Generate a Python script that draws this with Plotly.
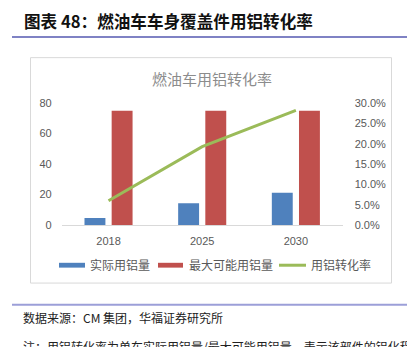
import plotly.graph_objects as go

# ---- data ----
years = ["2018", "2025", "2030"]
actual_al = [4.6, 14.4, 21.3]          # 实际用铝量
max_al = [75, 75, 75]                  # 最大可能用铝量
conv_rate = [0.060, 0.193, 0.282]      # 用铝转化率
left_ticks = [0, 20, 40, 60, 80]
right_ticks = [0, 0.05, 0.10, 0.15, 0.20, 0.25, 0.30]

series_names = ["实际用铝量", "最大可能用铝量", "用铝转化率"]
header_text = "图表 48：燃油车车身覆盖件用铝转化率"
chart_title = "燃油车用铝转化率"
source_text = "数据来源：CM 集团，华福证券研究所"
note_text = "注：用铝转化率为单车实际用铝量/最大可能用铝量，表示该部件的铝化程度"

BLUE = "#4f81bd"
RED = "#c0504d"
GREEN = "#9bbb59"
GREY = "#595959"

W, H = 407, 347
def px(x):
    return x / W
def py(y):
    return 1 - y / H

CJK = "Noto Sans CJK SC"
LAT = "Liberation Sans, Noto Sans CJK SC"

fig = go.Figure()
fig.add_trace(go.Bar(x=years, y=actual_al, name=series_names[0], marker_color=BLUE,
                     marker_line_width=0, yaxis="y", showlegend=False))
fig.add_trace(go.Bar(x=years, y=max_al, name=series_names[1], marker_color=RED,
                     marker_line_width=0, yaxis="y", showlegend=False))
fig.add_trace(go.Scatter(x=years, y=conv_rate, name=series_names[2], mode="lines",
                         line=dict(color=GREEN, width=3), yaxis="y2", showlegend=False))

shapes = [
    # header rule
    dict(type="line", xref="paper", yref="paper", x0=px(12), x1=px(407), y0=py(32), y1=py(32),
         line=dict(color="#5458b0", width=1.5)),
    # chart frame
    dict(type="rect", xref="paper", yref="paper", x0=px(30.5), x1=px(391.5), y0=py(53.5), y1=py(287),
         line=dict(color="#d9d9d9", width=1), fillcolor="rgba(0,0,0,0)", layer="below"),
    # bottom rule
    dict(type="line", xref="paper", yref="paper", x0=px(12), x1=px(407), y0=py(309.5), y1=py(309.5),
         line=dict(color="#9c9fd8", width=2)),
    # legend swatches
    dict(type="rect", xref="paper", yref="paper", x0=px(59), x1=px(85), y0=py(266), y1=py(271),
         fillcolor=BLUE, line=dict(width=0)),
    dict(type="rect", xref="paper", yref="paper", x0=px(158), x1=px(183), y0=py(266), y1=py(271),
         fillcolor=RED, line=dict(width=0)),
    dict(type="line", xref="paper", yref="paper", x0=px(279), x1=px(306), y0=py(268.5), y1=py(268.5),
         line=dict(color=GREEN, width=3)),
]

annotations = [
    dict(text="<b>" + header_text + "</b>", x=px(22), y=py(16), xref="paper", yref="paper",
         xanchor="left", yanchor="middle", showarrow=False,
         font=dict(family=CJK, size=16.6, color="#111111")),
    dict(text=chart_title, x=px(212), y=py(75), xref="paper", yref="paper",
         xanchor="center", yanchor="middle", showarrow=False,
         font=dict(family=CJK, size=15, color="#8c8c8c")),
    dict(text=series_names[0], x=px(88), y=py(268), xref="paper", yref="paper",
         xanchor="left", yanchor="middle", showarrow=False,
         font=dict(family=CJK, size=12, color=GREY)),
    dict(text=series_names[1], x=px(187), y=py(268), xref="paper", yref="paper",
         xanchor="left", yanchor="middle", showarrow=False,
         font=dict(family=CJK, size=12, color=GREY)),
    dict(text=series_names[2], x=px(309), y=py(268), xref="paper", yref="paper",
         xanchor="left", yanchor="middle", showarrow=False,
         font=dict(family=CJK, size=12, color=GREY)),
    dict(text=source_text, x=px(21), y=py(323), xref="paper", yref="paper",
         xanchor="left", yanchor="middle", showarrow=False,
         font=dict(family=CJK, size=12, color="#222222")),
    dict(text=note_text, x=px(21), y=py(353), xref="paper", yref="paper",
         xanchor="left", yanchor="middle", showarrow=False,
         font=dict(family=CJK, size=12, color="#222222")),
]

fig.update_layout(
    width=W, height=H,
    margin=dict(l=0, r=0, t=0, b=0),
    paper_bgcolor="white", plot_bgcolor="white",
    barmode="group", bargap=0.42, bargroupgap=0.23,
    showlegend=False,
    xaxis=dict(domain=[px(61.7), px(342.7)], showgrid=False, showline=True,
               linecolor="#d9d9d9", linewidth=1, ticks="", zeroline=False,
               tickfont=dict(family=LAT, size=11, color=GREY), ticklabelstandoff=6),
    yaxis=dict(domain=[py(227), py(100.5)], range=[0, 80], tickvals=left_ticks,
               showgrid=False, zeroline=False, showline=False, ticks="",
               tickfont=dict(family=LAT, size=11, color=GREY), ticklabelstandoff=9),
    yaxis2=dict(domain=[py(227), py(100.5)], range=[0, 0.30], tickvals=right_ticks,
                tickformat=".1%", overlaying="y", side="right", anchor="x",
                showgrid=False, zeroline=False, showline=False, ticks="",
                tickfont=dict(family=LAT, size=11, color=GREY), ticklabelstandoff=11),
    shapes=shapes,
    annotations=annotations,
)

fig.write_html("out.html")
